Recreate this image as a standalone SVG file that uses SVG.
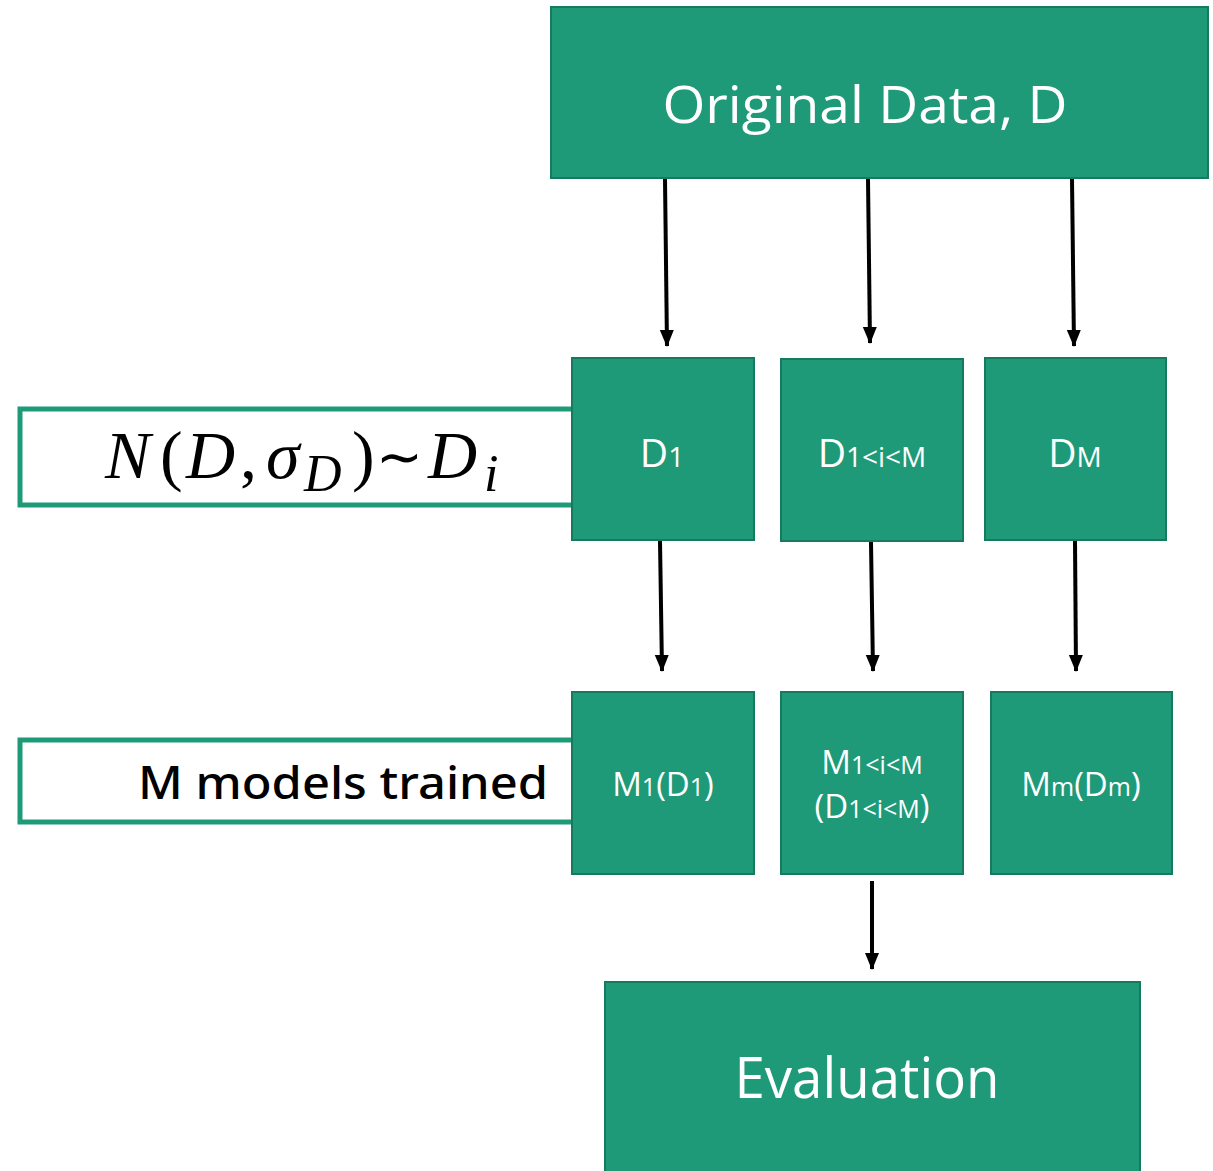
<svg xmlns="http://www.w3.org/2000/svg" width="1213" height="1171" viewBox="0 0 1213 1171">
<style>
.box{fill:#1e9a78;stroke:#177a5e;stroke-width:2}
.lbl{fill:#ffffff;stroke:#1e9a78;stroke-width:5}
.t{font-family:"Open Sans","Liberation Sans",sans-serif;fill:#ffffff;text-anchor:middle}
.c{stroke:#000;stroke-width:4;fill:none;marker-end:url(#ah)}
.m{font-family:"Liberation Serif",serif;fill:#000;font-size:68px}
.s{font-size:52px}
.mi{font-style:italic}
</style>
<defs>
<marker id="ah" markerUnits="userSpaceOnUse" markerWidth="18" markerHeight="18" viewBox="0 0 18 18" refX="16" refY="9" orient="auto">
<path d="M0,2 L17,9 L0,16 Z" fill="#000"/>
</marker>
</defs>
<rect width="1213" height="1171" fill="#ffffff"/>
<g id="label-math">
<rect class="lbl" x="20" y="409" width="556" height="96"/>
<text class="m mi" x="105" y="478">N</text>
<text class="m" x="160" y="478">(</text>
<text class="m mi" x="186" y="478">D</text>
<text class="m" x="240" y="478">,</text>
<text class="m mi" x="266" y="478">σ</text>
<text class="m mi s" x="304" y="491">D</text>
<text class="m" x="352" y="478">)</text>
<text x="376" y="476" font-family="'DejaVu Sans',sans-serif" font-size="56" fill="#000">∼</text>
<text class="m mi" x="428" y="478">D</text>
<text class="m mi s" x="484" y="491">i</text>
</g>
<g id="label-models">
<rect class="lbl" x="20" y="740" width="556" height="82"/>
<text x="548" y="799" font-family="'Noto Sans','Liberation Sans',sans-serif" font-size="46" font-weight="500" fill="#000" text-anchor="end" textLength="410" lengthAdjust="spacingAndGlyphs">M models trained</text>
</g>
<g id="original">
<rect class="box" x="551" y="7" width="657" height="171"/>
<text class="t" x="865" y="123" font-size="52" textLength="405" lengthAdjust="spacingAndGlyphs">Original Data, D</text>
</g>
<g id="d1">
<rect class="box" x="572" y="358" width="182" height="182"/>
<text class="t" x="662" y="467" font-size="39">D<tspan font-size="28">1</tspan></text>
</g>
<g id="di">
<rect class="box" x="781" y="359" width="182" height="182"/>
<text class="t" x="872" y="467" font-size="39">D<tspan font-size="28">1&lt;i&lt;M</tspan></text>
</g>
<g id="dm">
<rect class="box" x="985" y="358" width="181" height="182"/>
<text class="t" x="1075" y="467" font-size="39">D<tspan font-size="28">M</tspan></text>
</g>
<g id="m1">
<rect class="box" x="572" y="692" width="182" height="182"/>
<text class="t" x="663" y="796" font-size="33">M<tspan font-size="25">1</tspan>(D<tspan font-size="25">1</tspan>)</text>
</g>
<g id="mi">
<rect class="box" x="781" y="692" width="182" height="182"/>
<text class="t" x="872" y="774" font-size="33">M<tspan font-size="25">1&lt;i&lt;M</tspan></text>
<text class="t" x="872" y="818" font-size="33">(D<tspan font-size="25">1&lt;i&lt;M</tspan>)</text>
</g>
<g id="mm">
<rect class="box" x="991" y="692" width="181" height="182"/>
<text class="t" x="1081" y="796" font-size="33">M<tspan font-size="25">m</tspan>(D<tspan font-size="25">m</tspan>)</text>
</g>
<g id="evaluation">
<rect class="box" x="605" y="982" width="535" height="200"/>
<text class="t" x="867" y="1098" font-size="56" textLength="265" lengthAdjust="spacingAndGlyphs">Evaluation</text>
</g>
<g id="connectors">
<line class="c" x1="665" y1="179" x2="667" y2="346"/>
<line class="c" x1="868" y1="179" x2="870" y2="343"/>
<line class="c" x1="1072" y1="179" x2="1074" y2="346"/>
<line class="c" x1="660" y1="541" x2="662" y2="671"/>
<line class="c" x1="871" y1="542" x2="873" y2="671"/>
<line class="c" x1="1075" y1="541" x2="1076" y2="671"/>
<line class="c" x1="872" y1="881" x2="872" y2="969"/>
</g>
</svg>
